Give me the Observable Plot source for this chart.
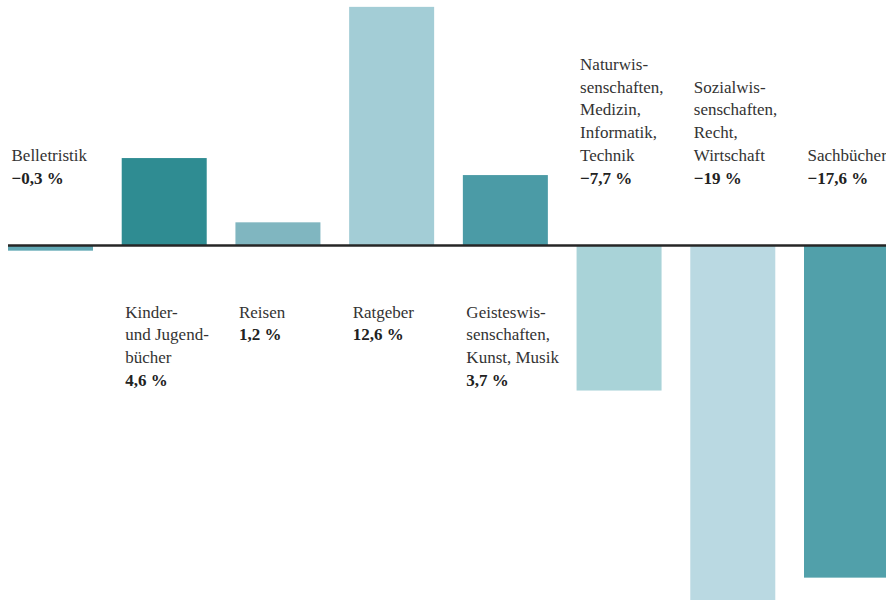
<!DOCTYPE html>
<html>
<head>
<meta charset="utf-8">
<script src="https://cdn.jsdelivr.net/npm/d3@7"></script>
<script src="https://cdn.jsdelivr.net/npm/@observablehq/plot@0.6"></script>
<style>
  html, body { margin: 0; padding: 0; background: #fff; overflow: hidden; }
  #chart svg { display: block; }
</style>
</head>
<body>
<div id="chart"></div>
<script>
const categories = ["Belletristik", "Kinder- und Jugendbücher", "Reisen", "Ratgeber",
  "Geisteswissenschaften", "Naturwissenschaften", "Sozialwissenschaften", "Sachbücher"];
const labelNames = ["Belletristik", "Kinder-\nund Jugend-\nbücher", "Reisen", "Ratgeber",
  "Geisteswis-\nsenschaften,\nKunst, Musik", "Naturwis-\nsenschaften,\nMedizin,\nInformatik,\nTechnik",
  "Sozialwis-\nsenschaften,\nRecht,\nWirtschaft", "Sachbücher"];
const values = [-0.3, 4.6, 1.2, 12.6, 3.7, -7.7, -19, -17.6];
const valueLabels = ["−0,3 %", "4,6 %", "1,2 %", "12,6 %", "3,7 %", "−7,7 %", "−19 %", "−17,6 %"];
const colors = ["#62a9b5", "#2f8c92", "#80b6c0", "#a3cdd6", "#4b9ba6", "#a9d3d8", "#bad9e2", "#51a0aa"];

const data = categories.map((c, i) => {
  const nLines = labelNames[i].split("\n").length;
  return {
    cat: c,
    value: values[i],
    color: colors[i],
    name: labelNames[i] + "\n\u00a0",
    val: "\u00a0\n".repeat(nLines) + valueLabels[i]
  };
});
const pos = data.filter(d => d.value >= 0);
const neg = data.filter(d => d.value < 0);

const bw = 85;
const fontFamily = "'Liberation Serif', 'DejaVu Serif', serif";
const fs = 17;
const lh = 22.75 / fs;

const common = {x: "cat", y: 0, textAnchor: "start", dx: -bw / 2 + 3, fontFamily, fontSize: fs, lineHeight: lh};
const bold = {fill: "#222", fontWeight: "bold"};

const chart = Plot.plot({
  width: 886,
  height: 600,
  margin: 0,
  x: {type: "band", domain: categories, range: [8, 889], paddingInner: 0.2525, paddingOuter: 0, round: false, axis: null},
  y: {domain: [-(600 - 245) / 18.9, 245 / 18.9], range: [600, 0], axis: null},
  marks: [
    Plot.barY(data, {x: "cat", y: "value", fill: "color", clip: true}),
    Plot.ruleY([0], {stroke: "#262626", strokeWidth: 2.5, insetLeft: 8}),
    // positive bars: labels below the zero line
    Plot.text(pos, {...common, text: "name", lineAnchor: "top", dy: 56, fill: "#333"}),
    Plot.text(pos, {...common, text: "val", lineAnchor: "top", dy: 56, ...bold}),
    // negative bars: labels above the zero line
    Plot.text(neg, {...common, text: "name", lineAnchor: "bottom", dy: -62, fill: "#333"}),
    Plot.text(neg, {...common, text: "val", lineAnchor: "bottom", dy: -62, ...bold})
  ]
});
document.getElementById("chart").append(chart);
</script>
</body>
</html>
